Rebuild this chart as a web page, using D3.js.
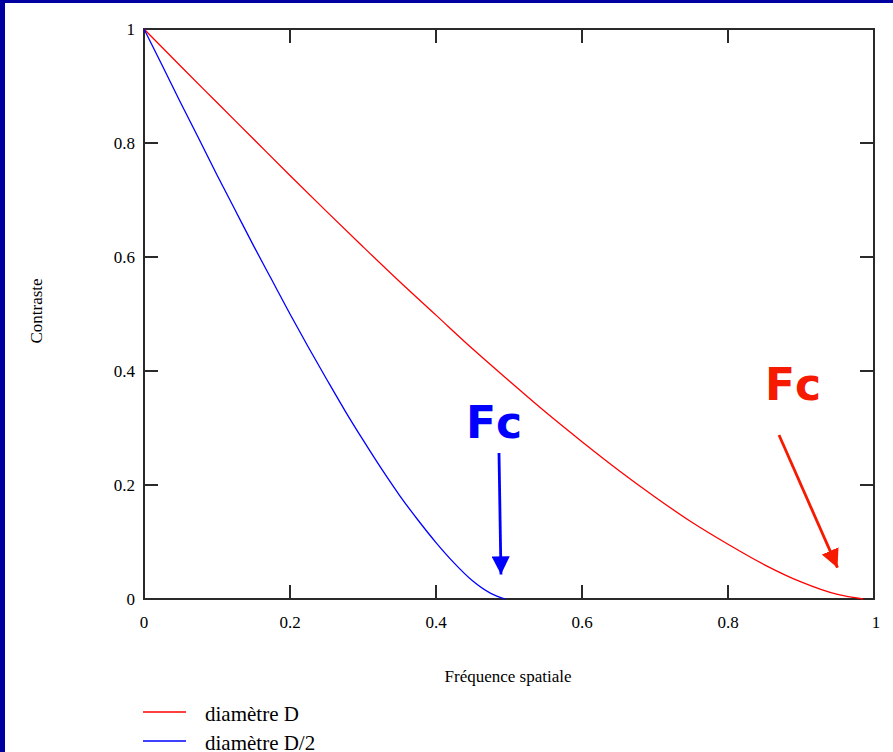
<!DOCTYPE html>
<html>
<head>
<meta charset="utf-8">
<script src="https://cdn.jsdelivr.net/npm/d3@7"></script>
<style>
  html, body { margin: 0; padding: 0; background: #fff; }
  svg { display: block; }
</style>
</head>
<body>
<div id="chart"></div>
<script>
// spatial frequency (x) vs contrast (y)
const freqD = [0, 0.05, 0.1, 0.15, 0.2, 0.25, 0.3, 0.35, 0.4, 0.45, 0.5, 0.55, 0.6, 0.65, 0.7, 0.75, 0.8, 0.85, 0.9, 0.95, 0.985];
const contrastD = [1, 0.935, 0.871, 0.807, 0.743, 0.68, 0.618, 0.557, 0.498, 0.439, 0.383, 0.328, 0.276, 0.226, 0.179, 0.135, 0.096, 0.06, 0.03, 0.008, 0];
const freqD2 = [0, 0.025, 0.05, 0.075, 0.1, 0.125, 0.15, 0.175, 0.2, 0.225, 0.25, 0.275, 0.3, 0.325, 0.35, 0.375, 0.4, 0.425, 0.45, 0.475, 0.495];
const contrastD2 = [1, 0.936, 0.871, 0.808, 0.744, 0.682, 0.62, 0.56, 0.5, 0.442, 0.386, 0.331, 0.279, 0.229, 0.182, 0.139, 0.099, 0.063, 0.032, 0.01, 0];
const tickValues = [0, 0.2, 0.4, 0.6, 0.8, 1];
const legendLabels = ["diamètre D", "diamètre D/2"];
const cutoffs = [0.985, 0.495];
const colors = ["#ff0000", "#0000ff"];

const width = 893, height = 752;
const serif = "'Liberation Serif', 'DejaVu Serif', serif";

const svg = d3.select("#chart").append("svg")
  .attr("width", width)
  .attr("height", height);

// navy slide border
svg.append("rect").attr("x", 0).attr("y", 0).attr("width", width).attr("height", height).attr("fill", "#0000a0");
svg.append("rect").attr("x", 5).attr("y", 3).attr("width", width - 5).attr("height", height - 3).attr("fill", "#fff");

const x = d3.scaleLinear().domain([0, 1]).range([144, 874]);
const y = d3.scaleLinear().domain([0, 1]).range([599, 29]);

const axisColor = "#2a2a2a";
const inner = tickValues.slice(1, -1);

// frame
svg.append("rect")
  .attr("x", x(0)).attr("y", y(1))
  .attr("width", x(1) - x(0)).attr("height", y(0) - y(1))
  .attr("fill", "none").attr("stroke", axisColor).attr("stroke-width", 2);

// inward ticks on all four sides
const tickLen = 14;
const tk = svg.append("g").attr("stroke", axisColor).attr("stroke-width", 2);
inner.forEach(v => {
  tk.append("line").attr("x1", x(v)).attr("x2", x(v)).attr("y1", y(0)).attr("y2", y(0) - tickLen);
  tk.append("line").attr("x1", x(v)).attr("x2", x(v)).attr("y1", y(1)).attr("y2", y(1) + tickLen);
  tk.append("line").attr("y1", y(v)).attr("y2", y(v)).attr("x1", x(0)).attr("x2", x(0) + tickLen);
  tk.append("line").attr("y1", y(v)).attr("y2", y(v)).attr("x1", x(1)).attr("x2", x(1) - tickLen);
});

// tick labels
const fmt = d => d === 0 || d === 1 ? String(d) : d3.format(".1f")(d);
svg.append("g").selectAll("text")
  .data(tickValues).enter().append("text")
  .attr("x", d => x(d) + (d === 1 ? 2 : 0))
  .attr("y", 628)
  .attr("text-anchor", "middle")
  .attr("font-family", serif).attr("font-size", 17).attr("fill", "#000")
  .text(fmt);
svg.append("g").selectAll("text")
  .data(tickValues).enter().append("text")
  .attr("x", 135)
  .attr("y", d => y(d) + 6)
  .attr("text-anchor", "end")
  .attr("font-family", serif).attr("font-size", 17).attr("fill", "#000")
  .text(fmt);

// axis titles
svg.append("text")
  .attr("x", 508).attr("y", 682)
  .attr("text-anchor", "middle")
  .attr("font-family", serif).attr("font-size", 17).attr("fill", "#000")
  .text("Fréquence spatiale");
svg.append("text")
  .attr("transform", "translate(42,311) rotate(-90)")
  .attr("text-anchor", "middle")
  .attr("font-family", serif).attr("font-size", 17).attr("fill", "#000")
  .text("Contraste");

// curves
const line = d3.line().x(d => x(d[0])).y(d => y(d[1])).curve(d3.curveMonotoneX);
const series = [d3.zip(freqD, contrastD), d3.zip(freqD2, contrastD2)];
series.forEach((s, i) => {
  svg.append("path")
    .attr("d", line(s))
    .attr("fill", "none")
    .attr("stroke", colors[i])
    .attr("stroke-width", 1.3);
});

// legend
const legend = svg.append("g");
legendLabels.forEach((lbl, i) => {
  const ly = 712 + i * 29;
  legend.append("line").attr("x1", 143).attr("x2", 186).attr("y1", ly).attr("y2", ly)
    .attr("stroke", colors[i]).attr("stroke-width", 1.5);
  legend.append("text").attr("x", 205).attr("y", ly + 9)
    .attr("font-family", serif).attr("font-size", 21).attr("fill", "#000")
    .text(lbl);
});

// "Fc" annotations with arrows pointing at the cutoff frequencies
const defs = svg.append("defs");
const annColors = ["#f51a00", "#0000ff"];
annColors.forEach((c, i) => {
  defs.append("marker")
    .attr("id", "arrow" + i)
    .attr("viewBox", "0 0 10 10")
    .attr("refX", 10).attr("refY", 5)
    .attr("markerWidth", 6.5).attr("markerHeight", 6.5)
    .attr("markerUnits", "strokeWidth")
    .attr("orient", "auto")
    .append("path").attr("d", "M0,0 L10,5 L0,10 z").attr("fill", c);
});
const ann = [
  { label: "Fc", tx: 765, ty: 400, x1: 779, y1: 435, fx: cutoffs[0] - 0.035, fy: 0.055 },
  { label: "Fc", tx: 466, ty: 438, x1: 499, y1: 453, fx: cutoffs[1] - 0.006, fy: 0.043 }
];
ann.forEach((a, i) => {
  svg.append("text")
    .attr("x", a.tx).attr("y", a.ty)
    .attr("font-family", "'DejaVu Sans', Verdana, sans-serif")
    .attr("font-weight", "bold").attr("font-size", 44)
    .attr("fill", annColors[i])
    .text(a.label);
  svg.append("line")
    .attr("x1", a.x1).attr("y1", a.y1)
    .attr("x2", x(a.fx)).attr("y2", y(a.fy))
    .attr("stroke", annColors[i]).attr("stroke-width", 2.8)
    .attr("marker-end", `url(#arrow${i})`);
});
</script>
</body>
</html>
